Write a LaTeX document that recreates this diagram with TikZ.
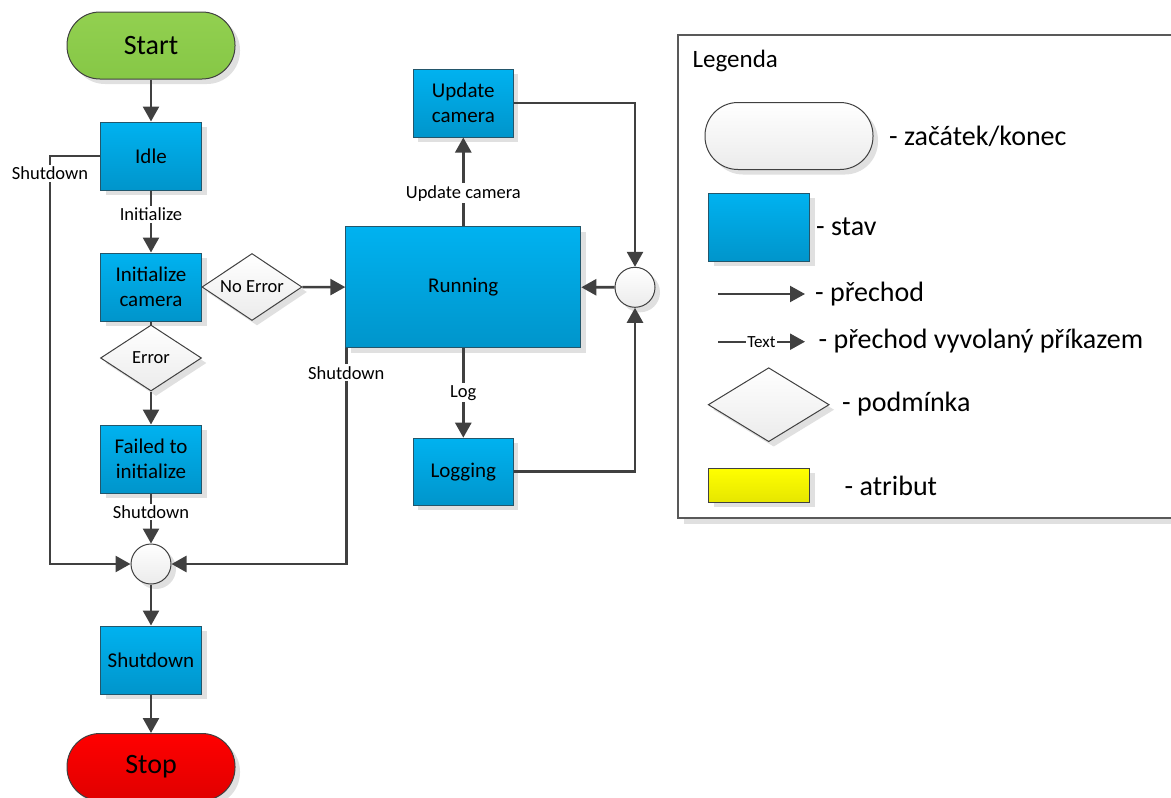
\documentclass[tikz,border=0pt]{standalone}
\usepackage{fontspec}
\setmainfont{Carlito}
\usetikzlibrary{arrows.meta,shapes.geometric,shadows,calc}
\definecolor{lineg}{HTML}{404040}
\definecolor{boxedge}{HTML}{23566B}
\definecolor{blueT}{HTML}{00B2F0}
\definecolor{blueB}{HTML}{0095CB}
\definecolor{greenT}{HTML}{92D050}
\definecolor{greenB}{HTML}{86C746}
\definecolor{redT}{HTML}{FF0000}
\definecolor{redB}{HTML}{E00000}
\definecolor{greyB}{HTML}{EBEBEB}
\definecolor{yelT}{HTML}{FFFF00}
\definecolor{yelB}{HTML}{E6E600}
\begin{document}
\begin{tikzpicture}[x=1pt,y=-1pt,
  softshadow/.style={drop shadow={shadow xshift=5pt,shadow yshift=-5pt,fill=black!12,opacity=1}},
  conn/.style={draw=lineg, line width=2.6pt, -{Triangle[length=15pt,width=16pt]}},
  plain/.style={draw=lineg, line width=2.6pt},
  termbox/.style={rectangle, rounded corners=33pt, minimum width=168pt, minimum height=67pt,
    draw=lineg, line width=1pt, font=\fontsize{28}{32}\selectfont, softshadow},
  statebox/.style={rectangle, minimum width=101pt, minimum height=68pt, draw=boxedge,
    line width=1pt, top color=blueT, bottom color=blueB, align=center,
    font=\fontsize{21}{25}\selectfont, softshadow},
  condbox/.style={diamond, aspect=1.6, minimum width=100pt, minimum height=67pt, inner sep=0pt,
    draw=lineg, line width=1pt, top color=white, bottom color=greyB,
    font=\fontsize{18.5}{21}\selectfont, softshadow},
  junc/.style={circle, minimum size=40pt, inner sep=0pt, draw=lineg, line width=1pt,
    top color=white, bottom color=greyB, softshadow},
  lbl/.style={fill=white, inner sep=2pt, font=\fontsize{18.5}{21}\selectfont},
  legtext/.style={anchor=base west, inner sep=0pt, font=\fontsize{28}{32}\selectfont},
]
\useasboundingbox (0,0) rectangle (1171,798);

% ---- main flow (left column) ----
\node[termbox, top color=greenT, bottom color=greenB] (start) at (151,45.5) {Start};
\node[statebox] (idle) at (151,156) {Idle};
\node[statebox] (init) at (151,287) {Initialize\\camera};
\node[condbox] (noerr) at (252,287) {No Error};
\node[condbox, minimum width=101pt, minimum height=66pt] (err) at (151,358) {Error};
\node[statebox] (fail) at (151,459) {Failed to\\initialize};
\node[junc] (j1) at (151,564) {};
\node[statebox] (shut) at (151,660) {Shutdown};
\node[termbox, top color=redT, bottom color=redB] (stop) at (151,767) {Stop};

% ---- running part ----
\node[statebox, minimum width=235pt, minimum height=121pt] (run) at (463.3,287.2) {Running};
\node[statebox, minimum width=100pt] (upd) at (463.3,103) {Update\\camera};
\node[statebox, minimum width=100pt, minimum height=67pt] (logg) at (463.3,471.7) {Logging};
\node[junc] (j2) at (635,287.3) {};

% ---- connectors ----
\draw[conn] (start) -- (idle);
\draw[conn] (idle) -- node[lbl, pos=0.38] {Initialize} (init);
\draw[conn] (noerr) -- (run);
\draw[plain] (init) -- (err);
\draw[conn] (err) -- (fail);
\draw[conn] (fail) -- node[lbl, pos=0.37] {Shutdown} (j1);
\draw[conn] (j1) -- (shut);
\draw[conn] (shut) -- (stop);

\coordinate (c1) at (50,156);
\coordinate (c2) at (50,564);
\draw[conn] (idle.west) -- (c1) -- node[lbl, pos=0.042] {Shutdown} (c2) -- (j1.west);

\coordinate (r1) at ($(run.south west)+(1,0)$);
\coordinate (r2) at (r1 |- j1);
\draw[conn] (r1) -- node[lbl, pos=0.114] {Shutdown} (r2) -- (j1.east);

\draw[conn] (run) -- node[lbl, pos=0.37] {Update camera} (upd);
\draw[conn] (run) -- node[lbl, pos=0.5] {Log} (logg);
\draw[conn] (upd.east) -| (j2.north);
\draw[conn] (logg.east) -| (j2.south);
\draw[conn] (j2) -- (run);

% ---- legend ----
\fill[black!12] (684,41) rectangle (1185,524);
\draw[draw=black!65, line width=1.4pt, fill=white] (678,35) rectangle (1180,518);
\node[anchor=base west, inner sep=0pt, font=\fontsize{25}{28}\selectfont] (legtitle) at (692.5,67.5) {Legenda};

\node[termbox, top color=white, bottom color=greyB] (lterm) at (789,136) {};
\node[legtext] (lt1) at (889,145) {- začátek/konec};

\node[statebox] (lstate) at (759,227) {};
\node[legtext] (lt2) at (816,235) {- stav};

\coordinate (la1) at (718,294);
\coordinate (la2) at (805,294);
\draw[conn, line width=2.2pt] (la1) -- (la2);
\node[legtext] (lt3) at (815,301.5) {- přechod};

\coordinate (lb1) at (718,341.7);
\coordinate (lb2) at (805,341.7);
\draw[conn, line width=2.2pt] (lb1) -- node[fill=white, inner sep=1pt, font=\fontsize{17}{19}\selectfont] {Text} (lb2);
\node[legtext] (lt4) at (818.5,348.3) {- přechod vyvolaný příkazem};

\node[condbox, minimum width=121pt, minimum height=74pt] (lcond) at (768.7,404.7) {};
\node[legtext] (lt5) at (842,411.7) {- podmínka};

\node[rectangle, minimum width=101pt, minimum height=34pt, draw=lineg, line width=1pt,
  top color=yelT, bottom color=yelB, softshadow] (lattr) at (759,485.3) {};
\node[legtext] (lt6) at (844.5,495) {- atribut};
\end{tikzpicture}
\end{document}
